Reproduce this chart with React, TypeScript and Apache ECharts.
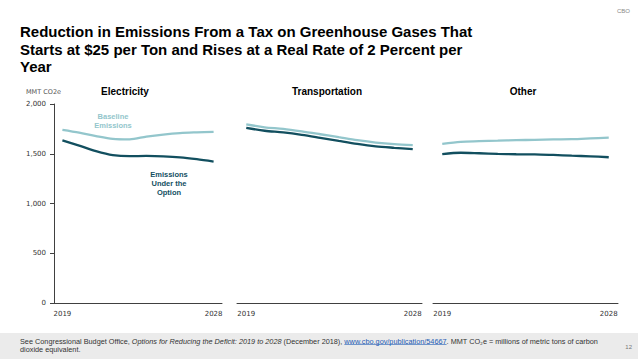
import React, { useEffect, useRef } from "react";
import * as echarts from "echarts";

const years = ["2019", "2020", "2021", "2022", "2023", "2024", "2025", "2026", "2027", "2028"];
const yTicks = [0, 500, 1000, 1500, 2000];

const panelTitles = ["Electricity", "Transportation", "Other"];

const electricityBaseline = [1740, 1712, 1678, 1650, 1645, 1672, 1693, 1708, 1715, 1720];
const electricityOption = [1635, 1582, 1527, 1487, 1476, 1478, 1474, 1464, 1445, 1421];

const transportationBaseline = [1795, 1766, 1750, 1725, 1696, 1666, 1636, 1612, 1596, 1587];
const transportationOption = [1760, 1731, 1714, 1690, 1660, 1629, 1599, 1575, 1560, 1547];

const otherBaseline = [1600, 1620, 1626, 1631, 1636, 1640, 1644, 1646, 1654, 1663];
const otherOption = [1496, 1510, 1505, 1499, 1495, 1494, 1488, 1481, 1474, 1465];

const title =
  "Reduction in Emissions From a Tax on Greenhouse Gases That\nStarts at $25 per Ton and Rises at a Real Rate of 2 Percent per\nYear";

const footN1 = "See Congressional Budget Office, ";
const footI = "Options for Reducing the Deficit: 2019 to 2028";
const footN2 = " (December 2018), ";
const footL = "www.cbo.gov/publication/54667";
const footN3 = ". MMT CO\u2082e = millions of metric tons of carbon";
const footLine2 = "dioxide equivalent.";

const BASE = "#93c6cc";
const OPT = "#124f5f";
const AXIS = "#404040";

export default function App() {
  const ref = useRef<HTMLDivElement>(null);
  useEffect(() => {
    if (!ref.current) return;
    const chart = echarts.init(ref.current, undefined, { renderer: "svg" });

    const measure = (font: string, s: string) => {
      const c = document.createElement("canvas").getContext("2d");
      if (!c) return s.length * 3.5;
      c.font = font;
      return c.measureText(s).width;
    };
    const fn = '7.3px "Liberation Sans"';
    const fi = 'italic 7.3px "Liberation Sans"';
    const ux0 = 20 + measure(fn, footN1) + measure(fi, footI) + measure(fn, footN2);
    const uw = measure(fn, footL);

    const grids = [
      { left: 54, width: 168, top: 104, height: 199 },
      { left: 237, width: 185, top: 104, height: 199 },
      { left: 433, width: 185, top: 104, height: 199 },
    ];
    const data = [
      [electricityBaseline, electricityOption],
      [transportationBaseline, transportationOption],
      [otherBaseline, otherOption],
    ];

    const xAxes = grids.map((_, i) => ({
      type: "category",
      gridIndex: i,
      data: years,
      boundaryGap: true,
      axisLine: { show: true, lineStyle: { color: AXIS, width: 1 } },
      axisTick: { show: false },
      axisLabel: {
        interval: (idx: number) => idx === 0 || idx === years.length - 1,
        fontSize: 7,
        color: "#333",
        fontFamily: "DejaVu Sans",
        margin: 7,
      },
    }));
    const yAxes = grids.map((_, i) => ({
      type: "value",
      gridIndex: i,
      min: yTicks[0],
      max: yTicks[yTicks.length - 1],
      interval: 500,
      show: i === 0,
      axisLine: { show: true, lineStyle: { color: AXIS, width: 1 } },
      axisTick: { show: true, length: 4, lineStyle: { color: AXIS } },
      splitLine: { show: false },
      axisLabel: {
        fontSize: 7,
        color: "#333",
        fontFamily: "DejaVu Sans",
        margin: 8,
        formatter: (v: number) => v.toLocaleString("en-US"),
      },
    }));
    const series: any[] = [];
    data.forEach((pair, i) => {
      series.push({
        type: "line",
        name: "Baseline Emissions",
        xAxisIndex: i,
        yAxisIndex: i,
        data: pair[0],
        symbol: "none",
        smooth: 0.3,
        lineStyle: { color: BASE, width: 2.3 },
        z: 3,
      });
      series.push({
        type: "line",
        name: "Emissions Under the Option",
        xAxisIndex: i,
        yAxisIndex: i,
        data: pair[1],
        symbol: "none",
        smooth: 0.3,
        lineStyle: { color: OPT, width: 2.3 },
        z: 2,
      });
    });

    const panelCenters = [125, 327, 523];

    chart.setOption({
      animation: false,
      grid: grids,
      xAxis: xAxes,
      yAxis: yAxes,
      series,
      graphic: [
        {
          type: "text",
          left: 20,
          top: 23,
          style: {
            text: title,
            font: 'bold 15px "Liberation Sans"',
            fill: "#000",
            lineHeight: 17.5,
          },
        },
        {
          type: "text",
          x: 630,
          y: 11,
          style: {
            text: "CBO",
            font: '6px "Liberation Sans"',
            fill: "#888",
            align: "right",
            verticalAlign: "middle",
          },
        },
        ...panelTitles.map((t, i) => ({
          type: "text",
          x: panelCenters[i],
          y: 91,
          style: {
            text: t,
            font: 'bold 10px "Liberation Sans"',
            fill: "#000",
            align: "center",
            verticalAlign: "middle",
          },
        })),
        {
          type: "text",
          x: 26,
          y: 92,
          style: {
            text: "MMT CO2e",
            font: '6.5px "DejaVu Sans"',
            fill: "#555",
            verticalAlign: "middle",
          },
        },
        {
          type: "text",
          x: 113,
          y: 121,
          style: {
            text: "Baseline\nEmissions",
            font: 'bold 7.5px "Liberation Sans"',
            fill: BASE,
            align: "center",
            verticalAlign: "middle",
            lineHeight: 9,
          },
        },
        {
          type: "text",
          x: 169,
          y: 183,
          style: {
            text: "Emissions\nUnder the\nOption",
            font: 'bold 7.5px "Liberation Sans"',
            fill: OPT,
            align: "center",
            verticalAlign: "middle",
            lineHeight: 9,
          },
        },
        {
          type: "rect",
          shape: { x: 0, y: 333, width: 638, height: 26 },
          style: { fill: "#ebebeb" },
          z: -10,
        },
        {
          type: "text",
          x: 20,
          y: 341,
          style: {
            text: `{n|${footN1}}{i|${footI}}{n|${footN2}}{l|${footL}}{n|${footN3}}`,
            verticalAlign: "middle",
            rich: {
              n: { font: fn, fill: "#333" },
              i: { font: fi, fill: "#333" },
              l: { font: fn, fill: "#1f5bb4" },
            },
          },
        },
        {
          type: "line",
          shape: { x1: ux0, y1: 344.5, x2: ux0 + uw, y2: 344.5 },
          style: { stroke: "#1f5bb4", lineWidth: 0.6 },
        },
        {
          type: "text",
          x: 20,
          y: 349,
          style: {
            text: footLine2,
            font: fn,
            fill: "#333",
            verticalAlign: "middle",
          },
        },
        {
          type: "text",
          x: 632,
          y: 347,
          style: {
            text: "12",
            font: '6px "Liberation Sans"',
            fill: "#777",
            align: "right",
            verticalAlign: "middle",
          },
        },
      ],
    });
    return () => chart.dispose();
  }, []);
  return (
    <div
      ref={ref}
      style={{ position: "absolute", left: 0, top: 0, width: 638, height: 359 }}
    />
  );
}
